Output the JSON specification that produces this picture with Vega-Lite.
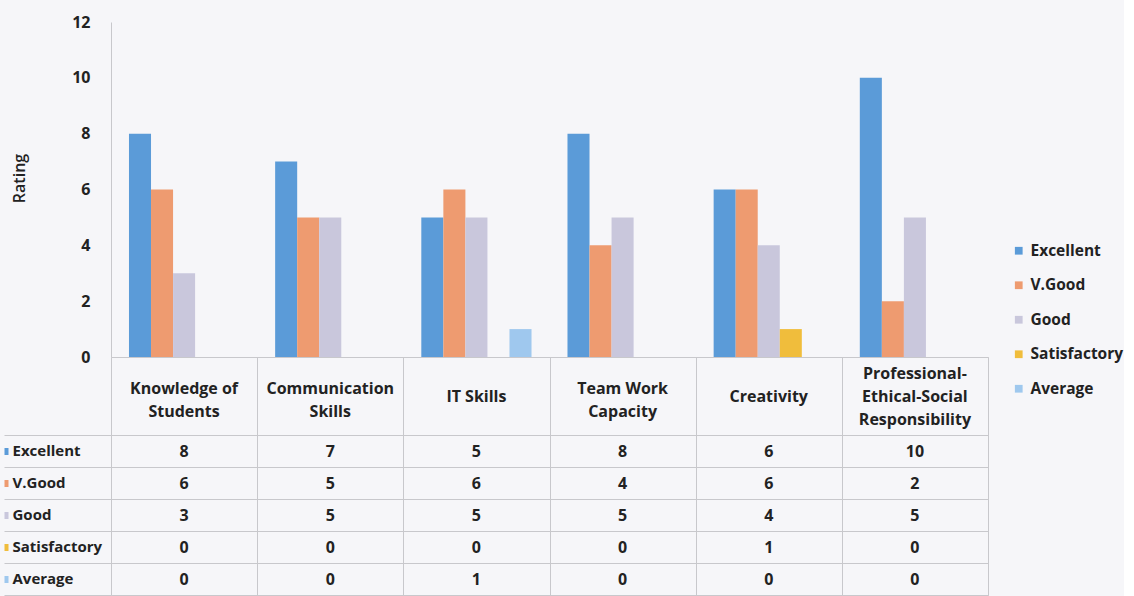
{
  "$schema": "https://vega.github.io/schema/vega-lite/v6.json",
  "background": "#f6f6f9",
  "padding": {"left": 0, "top": 14, "right": 0, "bottom": 0},
  "bounds": "flush",
  "spacing": 0,
  "config": {
    "font": "Open Sans",
    "axis": {"labelColor": "#222222", "titleColor": "#222222"}
  },
  "data": {
    "values": [
      {"cat": "Knowledge of\nStudents", "level": "Excellent", "value": 8},
      {"cat": "Knowledge of\nStudents", "level": "V.Good", "value": 6},
      {"cat": "Knowledge of\nStudents", "level": "Good", "value": 3},
      {"cat": "Knowledge of\nStudents", "level": "Satisfactory", "value": 0},
      {"cat": "Knowledge of\nStudents", "level": "Average", "value": 0},
      {"cat": "Communication\nSkills", "level": "Excellent", "value": 7},
      {"cat": "Communication\nSkills", "level": "V.Good", "value": 5},
      {"cat": "Communication\nSkills", "level": "Good", "value": 5},
      {"cat": "Communication\nSkills", "level": "Satisfactory", "value": 0},
      {"cat": "Communication\nSkills", "level": "Average", "value": 0},
      {"cat": "IT Skills", "level": "Excellent", "value": 5},
      {"cat": "IT Skills", "level": "V.Good", "value": 6},
      {"cat": "IT Skills", "level": "Good", "value": 5},
      {"cat": "IT Skills", "level": "Satisfactory", "value": 0},
      {"cat": "IT Skills", "level": "Average", "value": 1},
      {"cat": "Team Work\nCapacity", "level": "Excellent", "value": 8},
      {"cat": "Team Work\nCapacity", "level": "V.Good", "value": 4},
      {"cat": "Team Work\nCapacity", "level": "Good", "value": 5},
      {"cat": "Team Work\nCapacity", "level": "Satisfactory", "value": 0},
      {"cat": "Team Work\nCapacity", "level": "Average", "value": 0},
      {"cat": "Creativity", "level": "Excellent", "value": 6},
      {"cat": "Creativity", "level": "V.Good", "value": 6},
      {"cat": "Creativity", "level": "Good", "value": 4},
      {"cat": "Creativity", "level": "Satisfactory", "value": 1},
      {"cat": "Creativity", "level": "Average", "value": 0},
      {"cat": "Professional-\nEthical-Social\nResponsibility", "level": "Excellent", "value": 10},
      {"cat": "Professional-\nEthical-Social\nResponsibility", "level": "V.Good", "value": 2},
      {"cat": "Professional-\nEthical-Social\nResponsibility", "level": "Good", "value": 5},
      {"cat": "Professional-\nEthical-Social\nResponsibility", "level": "Satisfactory", "value": 0},
      {"cat": "Professional-\nEthical-Social\nResponsibility", "level": "Average", "value": 0}
    ]
  },
  "vconcat": [
    {
      "width": 877,
      "height": 335,
      "view": {"stroke": null},
      "mark": {"type": "bar"},
      "encoding": {
        "x": {
          "field": "cat", "type": "nominal", "axis": null,
          "sort": ["Knowledge of\nStudents", "Communication\nSkills", "IT Skills", "Team Work\nCapacity", "Creativity", "Professional-\nEthical-Social\nResponsibility"],
          "scale": {"paddingInner": 0.246, "paddingOuter": 0.123}
        },
        "xOffset": {"field": "level", "type": "nominal", "sort": ["Excellent", "V.Good", "Good", "Satisfactory", "Average"]},
        "y": {
          "field": "value", "type": "quantitative",
          "scale": {"domain": [0, 12]},
          "axis": {
            "title": "Rating", "values": [0, 2, 4, 6, 8, 10, 12], "grid": false, "ticks": false,
            "domain": true, "domainColor": "#c8c8cc", "labelPadding": 21,
            "labelFontSize": 16, "labelFontWeight": "bold",
            "titleFontSize": 16, "titleFontWeight": 600, "titlePadding": 44, "titleY": 156
          }
        },
        "color": {
          "field": "level", "type": "nominal",
          "scale": {
            "domain": ["Excellent", "V.Good", "Good", "Satisfactory", "Average"],
            "range": ["#5b9bd8", "#ee9b70", "#c9c7dc", "#f0bd3c", "#9fc8ee"]
          },
          "legend": {
            "orient": "none", "legendX": 900, "legendY": 221, "title": null,
            "labelFontSize": 15.5, "labelFontWeight": "bold", "labelColor": "#222222",
            "symbolType": "square", "symbolSize": 60, "symbolStrokeWidth": 0,
            "rowPadding": 17.5, "labelOffset": 4
          }
        }
      }
    },
    {
      "width": 877,
      "height": 78,
      "view": {"stroke": "#c8c8cc"},
      "transform": [{"filter": "datum.level == 'Excellent'"}],
      "encoding": {
        "x": {
          "field": "cat", "type": "nominal",
          "sort": ["Knowledge of\nStudents", "Communication\nSkills", "IT Skills", "Team Work\nCapacity", "Creativity", "Professional-\nEthical-Social\nResponsibility"],
          "scale": {"paddingInner": 0, "paddingOuter": 0},
          "axis": {"title": null, "labels": false, "ticks": false, "domain": false, "grid": true, "tickBand": "extent", "gridColor": "#c8c8cc"}
        },
        "text": {"field": "cat"}
      },
      "layer": [
        {
          "transform": [{"filter": "length(split(datum.cat, '\\n')) == 1"}],
          "mark": {"type": "text", "lineBreak": "\n", "lineHeight": 23, "fontSize": 16, "fontWeight": "bold", "color": "#222222", "dy": 1}
        },
        {
          "transform": [{"filter": "length(split(datum.cat, '\\n')) == 2"}],
          "mark": {"type": "text", "lineBreak": "\n", "lineHeight": 23, "fontSize": 16, "fontWeight": "bold", "color": "#222222", "dy": -7}
        },
        {
          "transform": [{"filter": "length(split(datum.cat, '\\n')) == 3"}],
          "mark": {"type": "text", "lineBreak": "\n", "lineHeight": 23, "fontSize": 16, "fontWeight": "bold", "color": "#222222", "dy": -22}
        }
      ]
    },
    {
      "width": 877,
      "height": 160,
      "view": {"stroke": "#c8c8cc"},
      "encoding": {
        "x": {
          "field": "cat", "type": "nominal",
          "sort": ["Knowledge of\nStudents", "Communication\nSkills", "IT Skills", "Team Work\nCapacity", "Creativity", "Professional-\nEthical-Social\nResponsibility"],
          "scale": {"paddingInner": 0, "paddingOuter": 0},
          "axis": {"title": null, "labels": false, "ticks": false, "domain": false, "grid": true, "tickBand": "extent", "gridColor": "#c8c8cc"}
        },
        "text": {"field": "value", "type": "quantitative"}
      },
      "layer": [
        {
          "mark": {"type": "text", "fontSize": 16, "fontWeight": "bold", "color": "#222222", "dy": 1},
          "encoding": {
            "y": {
              "field": "level", "type": "nominal",
              "sort": ["Excellent", "V.Good", "Good", "Satisfactory", "Average"],
              "scale": {"paddingInner": 0, "paddingOuter": 0},
              "axis": {
                "orient": "left", "title": null, "labels": false, "domain": false,
                "tickBand": "extent", "tickSize": 107, "tickColor": "#c8c8cc",
                "grid": true, "gridColor": "#c8c8cc"
              }
            }
          }
        },
        {
          "mark": {"type": "text", "opacity": 0},
          "encoding": {
            "y": {
              "field": "level", "type": "nominal",
              "sort": ["Excellent", "V.Good", "Good", "Satisfactory", "Average"],
              "axis": {
                "orient": "left", "title": null, "offset": 103, "domain": false, "grid": false,
                "ticks": true, "tickSize": 4, "tickWidth": 7,
                "tickColor": {
                  "condition": [
                    {"test": "datum.value === 'Excellent'", "value": "#5b9bd8"},
                    {"test": "datum.value === 'V.Good'", "value": "#ee9b70"},
                    {"test": "datum.value === 'Good'", "value": "#c9c7dc"},
                    {"test": "datum.value === 'Satisfactory'", "value": "#f0bd3c"}
                  ],
                  "value": "#9fc8ee"
                },
                "labelAlign": "left", "labelPadding": -8,
                "labelFontSize": 15, "labelFontWeight": "bold"
              }
            }
          }
        }
      ],
      "resolve": {"axis": {"y": "independent"}}
    }
  ]
}
